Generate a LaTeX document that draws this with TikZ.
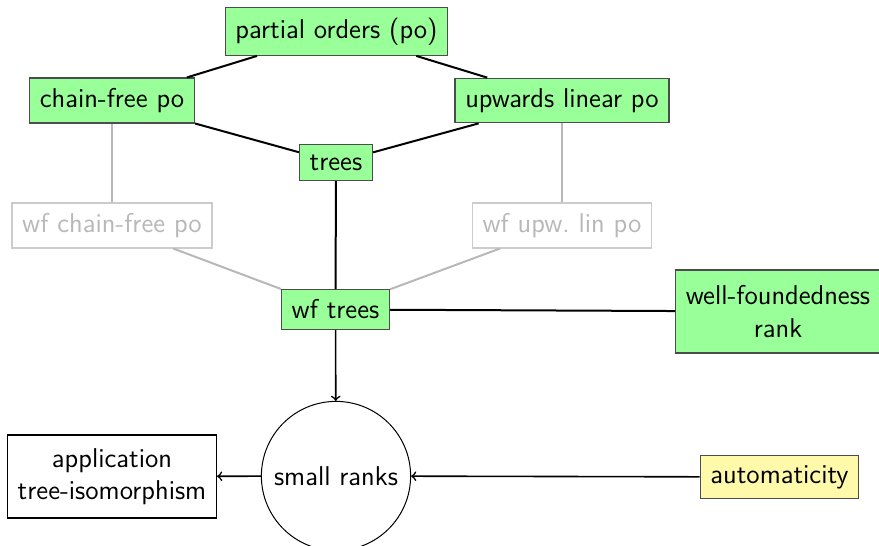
\documentclass[tikz,border=0pt]{standalone}
\usetikzlibrary{shapes.geometric}
\definecolor{autofill}{RGB}{255,249,170}
\begin{document}
\begin{tikzpicture}[x=0.5pt,y=-0.5pt,
  font=\sffamily\fontsize{13.6}{16.3}\selectfont,
  box/.style={draw=black!70,line width=0.6pt,inner sep=5.1pt,fill=green!40},
  dimbox/.style={draw=black!20,line width=0.6pt,inner sep=5.1pt,text=black!28},
  tallbox/.style={box,align=center,minimum height=41.5pt},
  link/.style={line width=1pt},
  dimlink/.style={line width=1pt,black!28},
  flow/.style={->,line width=0.8pt}]
\useasboundingbox (0,0) rectangle (879,546);

% lattice of classes of partial orders
\node[box] (po)   at (336.5,31.5) {partial orders (po)};
\node[box] (cf)   at (112,100.5)  {chain-free po};
\node[box] (ul)   at (562,100.5)  {upwards linear po};
\node[box] (tr)   at (336,162.5)  {trees};
\node[dimbox] (wfcf) at (112,225.5) {wf chain-free po};
\node[dimbox] (wful) at (562,225.5) {wf upw.\ lin po};
\node[box] (wft)  at (335.5,309.5) {wf trees};
\node[tallbox] (rk) at (778,311.5) {well-foundedness\\rank};

% results
\node[draw,circle,line width=0.5pt,minimum size=74.5pt,inner sep=5pt] (sr) at (336,476) {small ranks};
\node[draw,line width=0.6pt,inner sep=5.1pt,align=center,minimum height=41.5pt] (app) at (112,476.5) {application\\tree-isomorphism};
\node[draw=black!70,line width=0.6pt,inner sep=5.1pt,fill=autofill] (aut) at (779.5,477) {automaticity};

% inclusions
\draw[link] (po) -- (cf);
\draw[link] (po) -- (ul);
\draw[link] (cf) -- (tr);
\draw[link] (ul) -- (tr);
\draw[link] (tr) -- (wft);
\draw[dimlink] (cf) -- (wfcf);
\draw[dimlink] (ul) -- (wful);
\draw[dimlink] (wfcf) -- (wft);
\draw[dimlink] (wful) -- (wft);
\draw[link] (wft) -- (rk);

% dependencies
\draw[flow] (wft) -- (sr);
\draw[flow] (aut) -- (sr);
\draw[flow] (sr) -- (app);
\end{tikzpicture}
\end{document}
